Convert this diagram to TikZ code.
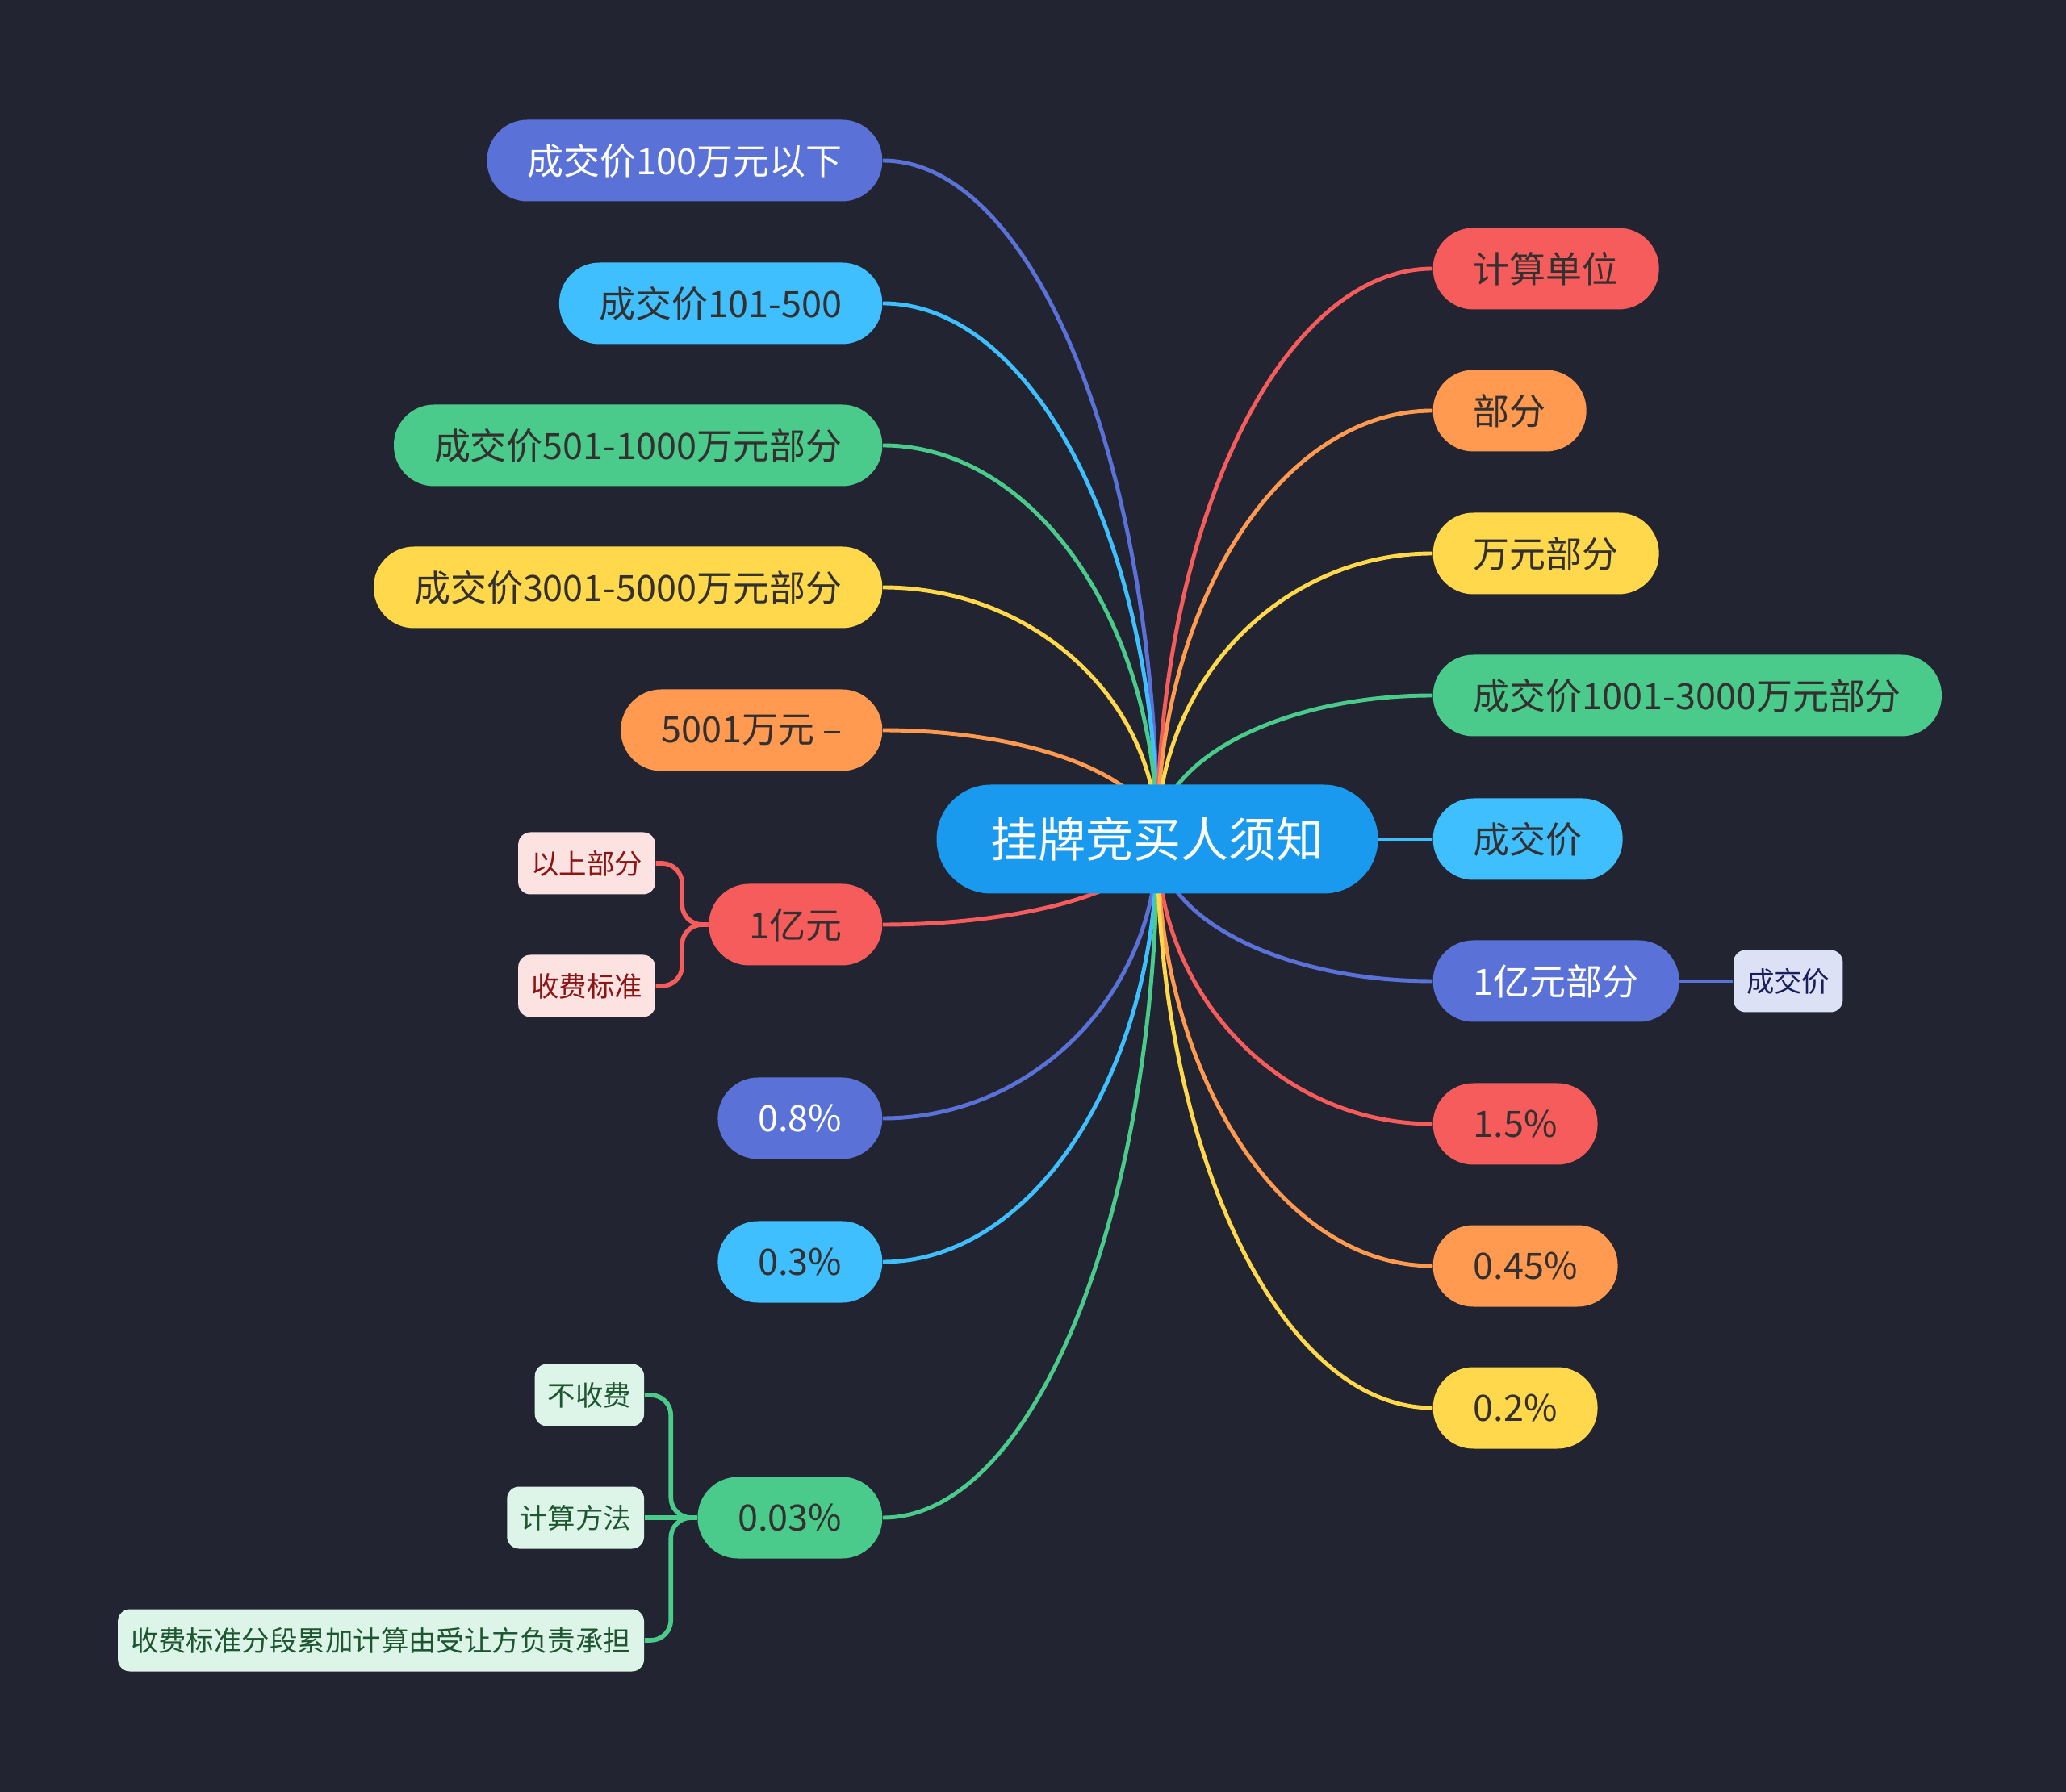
\documentclass[tikz,border=0pt]{standalone}
\usepackage{fontspec}
\setmainfont{Noto Sans CJK SC}
\usepackage{xcolor}
\usetikzlibrary{positioning, calc}

\definecolor{bgc}{HTML}{222531}
\definecolor{cRoot}{HTML}{1A9AEF}
\definecolor{cIndigo}{HTML}{5A72D8}
\definecolor{cSky}{HTML}{40BFFF}
\definecolor{cGreen}{HTML}{4ACB8B}
\definecolor{cYellow}{HTML}{FFD84B}
\definecolor{cOrange}{HTML}{FF9A50}
\definecolor{cRed}{HTML}{F75C5C}
\definecolor{txtDark}{HTML}{353030}
\definecolor{leafRedBg}{HTML}{FDE2E2}
\definecolor{leafRedTx}{HTML}{8B1414}
\definecolor{leafGreenBg}{HTML}{DCF5E8}
\definecolor{leafGreenTx}{HTML}{1E5632}
\definecolor{leafIndBg}{HTML}{DDE1F6}
\definecolor{leafIndTx}{HTML}{1A1F5C}

\pgfdeclarelayer{back}
\pgfdeclarelayer{links}
\pgfsetlayers{back,links,main}

\begin{document}
\begin{tikzpicture}[node distance=0.65cm]
    \tikzset{
        root/.style={rectangle, rounded corners=0.675cm, fill=cRoot, text=white, minimum width=5.47cm, minimum height=1.35cm, font=\fontsize{16.8}{20}\selectfont},
        topic/.style={rectangle, rounded corners=0.5cm, minimum height=1.01cm, inner xsep=0.5cm, text=txtDark, font=\fontsize{12.8}{15}\selectfont},
        leaf/.style={rectangle, rounded corners=0.15cm, minimum height=0.77cm, inner xsep=0.16cm, font=\fontsize{9.8}{12}\selectfont},
        link/.style={line width=1.4pt},
        sublink/.style={line width=1.6pt, rounded corners=0.25cm}
    }

    \begin{pgfonlayer}{back}
        \fill[bgc] (0,0) rectangle (25.6,-22.21);
    \end{pgfonlayer}
    \useasboundingbox (0,0) rectangle (25.6,-22.21);

    \node (root) [root] at (14.34,-10.40) {挂牌竞买人须知};

    % left side
    \node (L1) [topic, fill=cIndigo, text=white, anchor=east] at (10.94,-1.99) {成交价100万元以下};
    \node (L2) [topic, fill=cSky, anchor=east] at (10.94,-3.76) {成交价101-500};
    \node (L3) [topic, fill=cGreen, anchor=east] at (10.94,-5.52) {成交价501-1000万元部分};
    \node (L4) [topic, fill=cYellow, anchor=east] at (10.94,-7.28) {成交价3001-5000万元部分};
    \node (L5) [topic, fill=cOrange, anchor=east] at (10.94,-9.05) {5001万元 –};
    \node (L6) [topic, fill=cRed, anchor=east] at (10.94,-11.46) {1亿元};
    \node (L7) [topic, fill=cIndigo, text=white, anchor=east] at (10.94,-13.86) {0.8\%};
    \node (L8) [topic, fill=cSky, anchor=east] at (10.94,-15.64) {0.3\%};
    \node (L9) [topic, fill=cGreen, anchor=east] at (10.94,-18.81) {0.03\%};

    \node (L6a) [leaf, fill=leafRedBg, text=leafRedTx, left=of L6, yshift=0.76cm] {以上部分};
    \node (L6b) [leaf, fill=leafRedBg, text=leafRedTx, left=of L6, yshift=-0.76cm] {收费标准};

    \node (L9a) [leaf, fill=leafGreenBg, text=leafGreenTx, left=of L9, yshift=1.52cm] {不收费};
    \node (L9b) [leaf, fill=leafGreenBg, text=leafGreenTx, left=of L9] {计算方法};
    \node (L9c) [leaf, fill=leafGreenBg, text=leafGreenTx, left=of L9, yshift=-1.52cm] {收费标准分段累加计算由受让方负责承担};

    % right side
    \node (R1) [topic, fill=cRed, anchor=west] at (17.75,-3.33) {计算单位};
    \node (R2) [topic, fill=cOrange, anchor=west] at (17.75,-5.09) {部分};
    \node (R3) [topic, fill=cYellow, anchor=west] at (17.75,-6.86) {万元部分};
    \node (R4) [topic, fill=cGreen, anchor=west] at (17.75,-8.62) {成交价1001-3000万元部分};
    \node (R5) [topic, fill=cSky, anchor=west] at (17.75,-10.40) {成交价};
    \node (R6) [topic, fill=cIndigo, text=white, anchor=west] at (17.75,-12.16) {1亿元部分};
    \node (R7) [topic, fill=cRed, anchor=west] at (17.75,-13.93) {1.5\%};
    \node (R8) [topic, fill=cOrange, anchor=west] at (17.75,-15.69) {0.45\%};
    \node (R9) [topic, fill=cYellow, anchor=west] at (17.75,-17.45) {0.2\%};

    \node (R6a) [leaf, fill=leafIndBg, text=leafIndTx, right=0.66cm of R6] {成交价};

    \begin{pgfonlayer}{links}
        % branches: quarter-ellipse curves out of the root
        \draw [link, cIndigo] (root.center) .. controls ($(root.center)!0.55!(root.center |- L1.east)$) and ($(L1.east)!0.55!(root.center |- L1.east)$) .. (L1.east);
        \draw [link, cSky] (root.center) .. controls ($(root.center)!0.55!(root.center |- L2.east)$) and ($(L2.east)!0.55!(root.center |- L2.east)$) .. (L2.east);
        \draw [link, cGreen] (root.center) .. controls ($(root.center)!0.55!(root.center |- L3.east)$) and ($(L3.east)!0.55!(root.center |- L3.east)$) .. (L3.east);
        \draw [link, cYellow] (root.center) .. controls ($(root.center)!0.55!(root.center |- L4.east)$) and ($(L4.east)!0.55!(root.center |- L4.east)$) .. (L4.east);
        \draw [link, cOrange] (root.center) .. controls ($(root.center)!0.55!(root.center |- L5.east)$) and ($(L5.east)!0.55!(root.center |- L5.east)$) .. (L5.east);
        \draw [link, cRed] (root.center) .. controls ($(root.center)!0.55!(root.center |- L6.east)$) and ($(L6.east)!0.55!(root.center |- L6.east)$) .. (L6.east);
        \draw [link, cIndigo] (root.center) .. controls ($(root.center)!0.55!(root.center |- L7.east)$) and ($(L7.east)!0.55!(root.center |- L7.east)$) .. (L7.east);
        \draw [link, cSky] (root.center) .. controls ($(root.center)!0.55!(root.center |- L8.east)$) and ($(L8.east)!0.55!(root.center |- L8.east)$) .. (L8.east);
        \draw [link, cGreen] (root.center) .. controls ($(root.center)!0.55!(root.center |- L9.east)$) and ($(L9.east)!0.55!(root.center |- L9.east)$) .. (L9.east);

        \draw [link, cRed] (root.center) .. controls ($(root.center)!0.55!(root.center |- R1.west)$) and ($(R1.west)!0.55!(root.center |- R1.west)$) .. (R1.west);
        \draw [link, cOrange] (root.center) .. controls ($(root.center)!0.55!(root.center |- R2.west)$) and ($(R2.west)!0.55!(root.center |- R2.west)$) .. (R2.west);
        \draw [link, cYellow] (root.center) .. controls ($(root.center)!0.55!(root.center |- R3.west)$) and ($(R3.west)!0.55!(root.center |- R3.west)$) .. (R3.west);
        \draw [link, cGreen] (root.center) .. controls ($(root.center)!0.55!(root.center |- R4.west)$) and ($(R4.west)!0.55!(root.center |- R4.west)$) .. (R4.west);
        \draw [link, cSky] (root.east) -- (R5.west);
        \draw [link, cIndigo] (root.center) .. controls ($(root.center)!0.55!(root.center |- R6.west)$) and ($(R6.west)!0.55!(root.center |- R6.west)$) .. (R6.west);
        \draw [link, cRed] (root.center) .. controls ($(root.center)!0.55!(root.center |- R7.west)$) and ($(R7.west)!0.55!(root.center |- R7.west)$) .. (R7.west);
        \draw [link, cOrange] (root.center) .. controls ($(root.center)!0.55!(root.center |- R8.west)$) and ($(R8.west)!0.55!(root.center |- R8.west)$) .. (R8.west);
        \draw [link, cYellow] (root.center) .. controls ($(root.center)!0.55!(root.center |- R9.west)$) and ($(R9.west)!0.55!(root.center |- R9.west)$) .. (R9.west);

        % sub-branches
        \draw [sublink, cRed] (L6.west) -- ($(L6.west)!0.5!(L6.west -| L6a.east)$) |- (L6a.east);
        \draw [sublink, cRed] (L6.west) -- ($(L6.west)!0.5!(L6.west -| L6b.east)$) |- (L6b.east);
        \draw [sublink, cGreen] (L9.west) -- ($(L9.west)!0.5!(L9.west -| L9a.east)$) |- (L9a.east);
        \draw [sublink, cGreen] (L9.west) -- (L9b.east);
        \draw [sublink, cGreen] (L9.west) -- ($(L9.west)!0.5!(L9.west -| L9c.east)$) |- (L9c.east);
        \draw [link, cIndigo] (R6.east) -- (R6a.west);
    \end{pgfonlayer}

\end{tikzpicture}
\end{document}
